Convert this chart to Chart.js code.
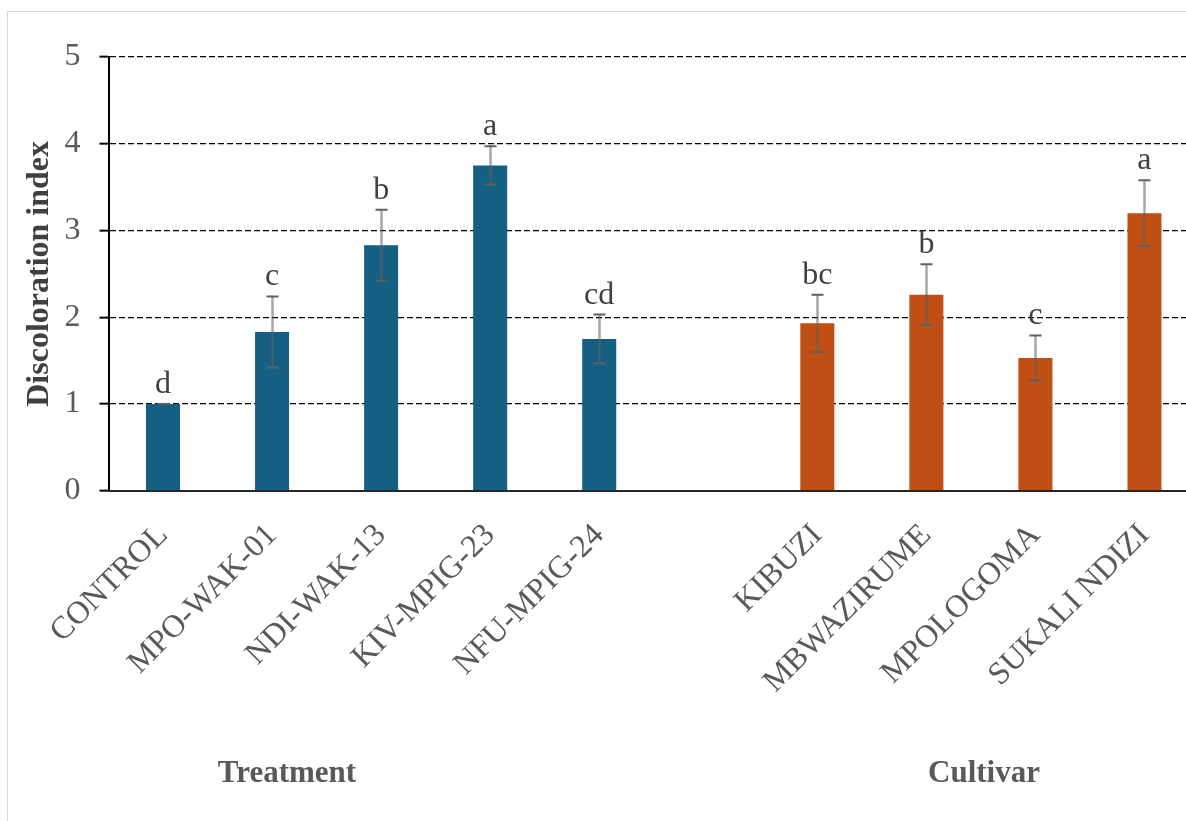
<!DOCTYPE html>
<html>
<head>
<meta charset="utf-8">
<script src="https://cdn.jsdelivr.net/npm/chart.js@4"></script>
<style>
  html, body { margin: 0; padding: 0; background: #fff; overflow: hidden; width: 1186px; height: 821px; }
  #frame { position: absolute; left: 7px; top: 11px; width: 1300px; height: 900px; border: 1.5px solid #d9d9d9; box-sizing: border-box; background: #fff; }
  #wrap { position: absolute; left: 0; top: 0; width: 1210px; height: 821px; }
</style>
</head>
<body>
<div id="frame"></div>
<div id="wrap"><canvas id="c" width="1210" height="821"></canvas></div>
<script>
// Discoloration index by treatment and by cultivar (mean ± error, letters = significance groups)
const treatments = ['CONTROL', 'MPO-WAK-01', 'NDI-WAK-13', 'KIV-MPIG-23', 'NFU-MPIG-24'];
const treatmentMeans = [1.00, 1.83, 2.83, 3.75, 1.75];
const treatmentErrors = [0.00, 0.41, 0.41, 0.22, 0.28];
const treatmentLetters = ['d', 'c', 'b', 'a', 'cd'];

const cultivars = ['KIBUZI', 'MBWAZIRUME', 'MPOLOGOMA', 'SUKALI NDIZI'];
const cultivarMeans = [1.93, 2.26, 1.53, 3.20];
const cultivarErrors = [0.33, 0.35, 0.26, 0.38];
const cultivarLetters = ['bc', 'b', 'c', 'a'];

const yTicks = [0, 1, 2, 3, 4, 5];
const groupTitles = ['Treatment', 'Cultivar'];

// one empty slot separates the two groups
const labels = [...treatments, '', ...cultivars];
const gap = 1;
const pad = n => Array(n).fill(null);
const treatmentData = [...treatmentMeans, ...pad(gap + cultivars.length)];
const cultivarData = [...pad(treatments.length + gap), ...cultivarMeans];
const treatmentErr = [...treatmentErrors, ...pad(gap + cultivars.length)];
const cultivarErr = [...pad(treatments.length + gap), ...cultivarErrors];
const treatmentLab = [...treatmentLetters, ...pad(gap + cultivars.length)];
const cultivarLab = [...pad(treatments.length + gap), ...cultivarLetters];

const SERIF = '"Liberation Serif", "Times New Roman", serif';

// error bars and significance letters drawn on top of the bars
const errorBarPlugin = {
  id: 'errorBars',
  afterDatasetsDraw(chart) {
    const ctx = chart.ctx;
    const y = chart.scales.y;
    chart.data.datasets.forEach((ds, di) => {
      const meta = chart.getDatasetMeta(di);
      ds.data.forEach((v, i) => {
        if (v === null || v === undefined) return;
        const bar = meta.data[i];
        const e = ds.errors[i] || 0;
        const cx = Math.round(bar.x) + 0.5;
        const yTop = y.getPixelForValue(v + e);
        const yBot = y.getPixelForValue(v - e);
        ctx.save();
        if (e > 0) {
          ctx.strokeStyle = 'rgba(95,95,95,0.55)';
          ctx.lineWidth = 2.5;
          ctx.beginPath();
          ctx.moveTo(cx, yTop);
          ctx.lineTo(cx, yBot);
          ctx.stroke();
        }
        ctx.strokeStyle = '#5f5f5f';
        ctx.lineWidth = 2;
        ctx.beginPath();
        ctx.moveTo(cx - 6, yTop); ctx.lineTo(cx + 6, yTop);
        ctx.moveTo(cx - 6, yBot); ctx.lineTo(cx + 6, yBot);
        ctx.stroke();
        const letter = ds.letters[i];
        if (letter) {
          ctx.fillStyle = '#404040';
          ctx.font = '32px ' + SERIF;
          ctx.textAlign = 'center';
          ctx.textBaseline = 'alphabetic';
          ctx.fillText(letter, bar.x, yTop - 11);
        }
        ctx.restore();
      });
    });
  }
};

// group captions under the rotated category labels
const groupTitlePlugin = {
  id: 'groupTitles',
  afterDraw(chart) {
    const ctx = chart.ctx;
    const xs = [287, 984];
    ctx.save();
    ctx.fillStyle = '#595959';
    ctx.font = 'bold 31px ' + SERIF;
    ctx.textAlign = 'center';
    ctx.textBaseline = 'alphabetic';
    groupTitles.forEach((t, i) => ctx.fillText(t, xs[i], 782));
    ctx.restore();
  }
};

new Chart(document.getElementById('c'), {
  type: 'bar',
  data: {
    labels,
    datasets: [
      { label: 'Treatment', data: treatmentData, errors: treatmentErr, letters: treatmentLab,
        backgroundColor: '#156082', borderWidth: 0 },
      { label: 'Cultivar', data: cultivarData, errors: cultivarErr, letters: cultivarLab,
        backgroundColor: '#C04F15', borderWidth: 0 }
    ]
  },
  options: {
    responsive: false,
    animation: false,
    devicePixelRatio: 1,
    grouped: false,
    categoryPercentage: 1,
    barPercentage: 0.312,
    layout: { padding: { left: 0, top: 57, right: 11, bottom: 0 } },
    plugins: { legend: { display: false }, tooltip: { enabled: false }, title: { display: false } },
    scales: {
      x: {
        grid: { display: false },
        border: { display: true, color: '#262626', width: 2 },
        ticks: {
          autoSkip: false, minRotation: 45, maxRotation: 45,
          color: '#595959', font: { family: SERIF, size: 32 }, padding: 18, labelOffset: 0
        },
        afterFit(s) { s.height = 330.3; s.paddingLeft = 0; s.paddingRight = 0; }
      },
      y: {
        min: 0, max: 5,
        afterBuildTicks(s) { s.ticks = yTicks.map(v => ({ value: v })); },
        grid: {
          color: '#000', lineWidth: 1.3,
          drawTicks: true, tickLength: 9, tickColor: '#000', tickWidth: 2, tickBorderDash: []
        },
        border: { display: true, color: '#000', width: 2, dash: [6, 3] },
        ticks: { color: '#595959', font: { family: SERIF, size: 32 }, padding: 19 },
        title: {
          display: true, text: 'Discoloration index', color: '#404040',
          font: { family: SERIF, size: 32, weight: 'bold' }, padding: { top: 21, bottom: 0 }
        },
        afterFit(s) { s.width = 108.5; }
      }
    }
  },
  plugins: [errorBarPlugin, groupTitlePlugin]
});
</script>
</body>
</html>
